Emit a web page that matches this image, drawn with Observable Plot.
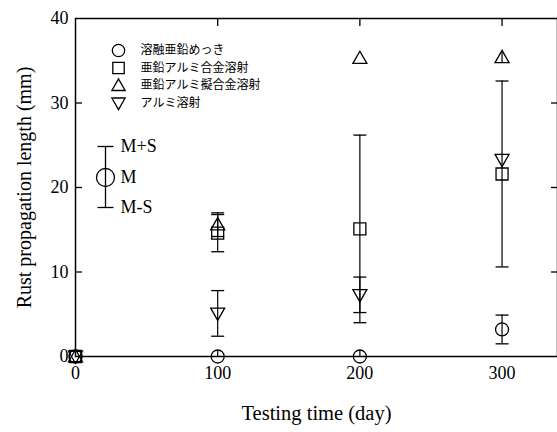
<!DOCTYPE html>
<html>
<head>
<meta charset="utf-8">
<script src="https://cdn.jsdelivr.net/npm/d3@7"></script>
<script src="https://cdn.jsdelivr.net/npm/@observablehq/plot@0.6"></script>
<style>
  html, body { margin: 0; padding: 0; background: #fff; }
  #chart { width: 557px; height: 432px; }
</style>
</head>
<body>
<div id="chart"></div>
<script>
// ---- data ----
const days = [0, 100, 200, 300];
const seriesNames = ["溶融亜鉛めっき", "亜鉛アルミ合金溶射", "亜鉛アルミ擬合金溶射", "アルミ溶射"];
const zincMean   = [0, 0, 0, 3.2];
const zincSd     = [0, 0.7, 0.7, 1.7];
const znAlMean   = [0, 14.6, 15.1, 21.6];
const znAlSd     = [0, 2.2, 11.1, 11.0];
const pseudoMean = [0, 15.6, 35.3, 35.4];
const pseudoSd   = [0, 1.4, 0, 0.7];
const alMean     = [0, 5.1, 7.3, 23.3];
const alSd       = [0, 2.7, 2.1, 0];
const yTicks = [0, 10, 20, 30, 40];
const xTicks = [0, 100, 200, 300];
const xLabel = "Testing time (day)";
const yLabel = "Rust propagation length (mm)";
const keyLabels = ["M+S", "M", "M-S"];

// ---- symbols ----
const capSym = {draw(ctx, size) { const w = Math.sqrt(size / Math.PI); ctx.moveTo(-w, 0); ctx.lineTo(w, 0); }};
const squareSym = {draw(ctx, size) { const s = Math.sqrt(size / Math.PI); ctx.rect(-s, -s, 2 * s, 2 * s); }};
const triUpSym = {draw(ctx, size) { const r = Math.sqrt(size / Math.PI); ctx.moveTo(0, -r); ctx.lineTo(r, r * 0.75); ctx.lineTo(-r, r * 0.75); ctx.closePath(); }};
const triDownSym = {draw(ctx, size) { const r = Math.sqrt(size / Math.PI); ctx.moveTo(0, r); ctx.lineTo(r, -r * 0.75); ctx.lineTo(-r, -r * 0.75); ctx.closePath(); }};
const circleSym = {draw(ctx, size) { const r = Math.sqrt(size / Math.PI); ctx.moveTo(r, 0); ctx.arc(0, 0, r, 0, 2 * Math.PI); }};

const symbols = [circleSym, squareSym, triUpSym, triDownSym];
const sizes = [6.5, 6, 7, 7];
const means = [zincMean, znAlMean, pseudoMean, alMean];
const sds = [zincSd, znAlSd, pseudoSd, alSd];

const table = [];
means.forEach((m, s) => days.forEach((d, i) => table.push({
  series: s, day: d, mean: m[i], sd: sds[s][i],
  lo: Math.max(0, m[i] - sds[s][i]), hi: m[i] + sds[s][i]
})));
const withErr = table.filter(d => d.sd > 0);
const withCap = table.filter(d => d.sd >= 1);

const legendRows = seriesNames.map((name, i) => ({i, name}));
const serif = "Liberation Serif, Times New Roman, serif";

const dotMarks = symbols.map((sym, s) =>
  Plot.dot(table.filter(d => d.series === s), {x: "day", y: "mean", symbol: sym, r: sizes[s], fill: "none", stroke: "black", strokeWidth: 1.3})
);

// key (M±S) offsets relative to frame top-left
const kdx = 30, kdy = [128, 159, 189];
const rowStep = 17.5, row0 = 32;

const plot = Plot.plot({
  width: 557,
  height: 432,
  marginLeft: 75,
  marginRight: 0,
  marginTop: 18,
  marginBottom: 76,
  style: {fontFamily: serif, fontSize: "18px", color: "black", background: "white"},
  x: {domain: [0, 339]},
  y: {domain: [0, 40]},
  marks: [
    Plot.frame({stroke: "black", strokeWidth: 1.5}),
    Plot.axisY({anchor: "left", ticks: yTicks, tickSize: 0, tickPadding: 7, fontSize: 18, label: null}),
    Plot.axisY({anchor: "left", ticks: yTicks.slice(1, -1), tickSize: 7, dx: 7, text: null, label: null, strokeWidth: 1.3}),
    Plot.axisY({anchor: "right", ticks: yTicks.slice(1, -1), tickSize: 7, dx: -7, text: null, label: null, strokeWidth: 1.3}),
    Plot.axisX({anchor: "bottom", ticks: xTicks, tickSize: 0, tickPadding: 10, fontSize: 18, label: null}),
    Plot.axisX({anchor: "top", ticks: xTicks.slice(1), tickSize: 7, dy: 7, text: null, label: null, strokeWidth: 1.3}),
    Plot.text([xLabel], {frameAnchor: "bottom", dy: 57, fontSize: 20.5, fontFamily: serif, textAnchor: "middle", lineAnchor: "middle"}),
    Plot.text([yLabel], {frameAnchor: "left", dx: -51, rotate: -90, fontSize: 20, fontFamily: serif, textAnchor: "middle", lineAnchor: "middle"}),
    Plot.ruleX(withErr, {x: "day", y1: "lo", y2: "hi", stroke: "black", strokeWidth: 1.2}),
    Plot.dot(withCap, {x: "day", y: "lo", symbol: capSym, r: 6.5, stroke: "black", strokeWidth: 1.3}),
    Plot.dot(withCap, {x: "day", y: "hi", symbol: capSym, r: 6.5, stroke: "black", strokeWidth: 1.3}),
    ...dotMarks,
    // series legend
    ...symbols.map((sym, s) => Plot.dot([legendRows[s]], {frameAnchor: "top-left", dx: 43, dy: row0 + s * rowStep, symbol: sym, r: sizes[s] * 0.95, fill: "none", stroke: "black", strokeWidth: 1.3})),
    ...legendRows.map((row, s) => Plot.text([row], {frameAnchor: "top-left", text: "name", dx: 65, dy: row0 + s * rowStep, fontSize: 12, fontFamily: "Noto Sans CJK JP", textAnchor: "start", lineAnchor: "middle"})),
    // M ± S key
    Plot.dot([0], {frameAnchor: "top-left", dx: kdx, dy: kdy[0], symbol: capSym, r: 8, stroke: "black", strokeWidth: 1.3}),
    Plot.dot([0], {frameAnchor: "top-left", dx: kdx, dy: kdy[2], symbol: capSym, r: 8, stroke: "black", strokeWidth: 1.3}),
    Plot.dot([0], {frameAnchor: "top-left", dx: kdx, dy: kdy[1], r: 9, fill: "none", stroke: "black", strokeWidth: 1.3}),
    Plot.dot([0], {frameAnchor: "top-left", dx: kdx, dy: kdy[0], symbol: {draw(ctx) { ctx.moveTo(0, 0); ctx.lineTo(0, kdy[2] - kdy[0]); }}, stroke: "black", strokeWidth: 1.3}),
    ...keyLabels.map((lab, i) => Plot.text([lab], {frameAnchor: "top-left", dx: kdx + 15, dy: kdy[i], fontSize: 18, fontFamily: serif, textAnchor: "start", lineAnchor: "middle"}))
  ]
});

document.getElementById("chart").appendChild(plot);
</script>
</body>
</html>
